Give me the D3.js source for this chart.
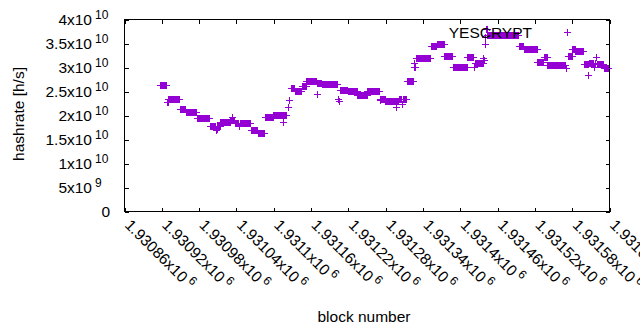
<!DOCTYPE html>
<html>
<head>
<meta charset="utf-8">
<script src="https://cdn.jsdelivr.net/npm/d3@7"></script>
<style>
  html, body { margin: 0; padding: 0; background: #fff; }
  svg { display: block; }
  text { font-family: "Liberation Sans", Arial, sans-serif; fill: #000; }
</style>
</head>
<body>
<svg id="chart" width="640" height="330"></svg>
<script>
// ---- data (run-length encoded: each run = consecutive blocks with the same hashrate) ----
const blockBase = 1930860;
const runStart = [58,69,71,90,99,117,138,148,149,150,155,171,173,174,178,185,186,204,215,226,240,255,256,264,266,268,275,286,293,310,311,318,344,345,348,360,375,391,411,412,420,437,438,442,447,448,455,466,467,469,493,503,515,529,552,563,564,577,578,579,580,581,582,584,635,643,665,675,681,711,714,721,726,739,747,748,756,757,759,760,772];
const runEnd   = [68,70,89,98,116,137,147,148,149,154,170,172,173,177,184,185,203,214,225,239,254,255,261,264,266,274,285,292,309,310,317,342,344,345,359,374,390,410,411,419,436,437,441,446,447,454,465,466,468,492,502,514,528,551,562,563,576,577,578,579,580,581,583,634,642,664,674,680,710,711,720,725,738,746,747,755,756,758,759,771,779];
const runValue = [2.62e10,2.28e10,2.33e10,2.115e10,2.07e10,1.93e10,1.77e10,1.68e10,1.71e10,1.77e10,1.86e10,1.89e10,1.96e10,1.89e10,1.83e10,1.77e10,1.83e10,1.69e10,1.62e10,1.95e10,1.99e10,1.86e10,1.99e10,2.17e10,2.31e10,2.56e10,2.49e10,2.60e10,2.70e10,2.43e10,2.67e10,2.64e10,2.33e10,2.29e10,2.52e10,2.49e10,2.42e10,2.51e10,2.32e10,2.33e10,2.30e10,2.17e10,2.30e10,2.33e10,2.22e10,2.33e10,2.70e10,3.08e10,3.00e10,3.18e10,3.43e10,3.47e10,3.22e10,2.99e10,3.21e10,3.00e10,3.09e10,3.18e10,3.09e10,3.15e10,3.47e10,3.63e10,3.80e10,3.67e10,3.43e10,3.37e10,3.10e10,3.20e10,3.035e10,2.98e10,3.23e10,3.38e10,3.33e10,3.06e10,2.83e10,3.08e10,3.00e10,3.08e10,3.21e10,3.06e10,2.97e10];

const seriesName = "YESCRYPT";
const xTickValues = [1930860,1930920,1930980,1931040,1931100,1931160,1931220,1931280,1931340,1931400,1931460,1931520,1931580,1931640];
const xTickMant   = ["1.93086","1.93092","1.93098","1.93104","1.9311","1.93116","1.93122","1.93128","1.93134","1.9314","1.93146","1.93152","1.93158","1.93164"];
const xTickExp    = ["6","6","6","6","6","6","6","6","6","6","6","6","6","6"];
const yTickValues = [0,5e9,1e10,1.5e10,2e10,2.5e10,3e10,3.5e10,4e10];
const yTickMant   = ["0","5","1","1.5","2","2.5","3","3.5","4"];
const yTickExp    = ["","9","10","10","10","10","10","10","10"];
const xLabel = "block number";
const yLabel = "hashrate [h/s]";

// decode runs into points
const points = [];
runStart.forEach((s, i) => {
  for (let b = s; b <= runEnd[i]; b++) points.push({ block: blockBase + b, hashrate: runValue[i] });
});

// ---- layout ----
const svg = d3.select("#chart");
const L = 124, R = 609, T = 19, B = 211;
const color = "#9400d3";
const fs = 15.5, supFs = 12;

const x = d3.scaleLinear().domain([1930860, 1931640]).range([L, R]);
const y = d3.scaleLinear().domain([0, 4e10]).range([B, T]);

const g = svg.append("g");

// border
g.append("rect").attr("x", L + 0.5).attr("y", T + 0.5)
  .attr("width", R - L).attr("height", B - T)
  .attr("fill", "none").attr("stroke", "#000").attr("stroke-width", 1)
  .attr("shape-rendering", "crispEdges");

// axes with inward ticks (mirrored)
const tl = 4;
const xb = d3.axisBottom(x).tickValues(xTickValues).tickSize(-tl).tickFormat("");
const xt = d3.axisTop(x).tickValues(xTickValues).tickSize(-tl).tickFormat("");
const yl = d3.axisLeft(y).tickValues(yTickValues).tickSize(-tl).tickFormat("");
const yr = d3.axisRight(y).tickValues(yTickValues).tickSize(-tl).tickFormat("");
[[xb, `translate(0.5,${B + 0.5})`], [xt, `translate(0.5,${T + 0.5})`],
 [yl, `translate(${L + 0.5},0.5)`], [yr, `translate(${R + 0.5},0.5)`]].forEach(([ax, tr]) => {
  const a = g.append("g").attr("transform", tr).call(ax);
  a.select(".domain").remove();
  a.selectAll("line").attr("stroke", "#000").attr("shape-rendering", "crispEdges");
});

// y tick labels (mantissa part right-aligned, superscript exponent after it)
yTickValues.forEach((v, i) => {
  if (yTickExp[i]) {
    g.append("text").attr("x", 92).attr("y", y(v) + 5.5)
      .attr("text-anchor", "end").attr("font-size", fs).text(yTickMant[i] + "x10");
    g.append("text").attr("x", 95).attr("y", y(v) - 0.5)
      .attr("text-anchor", "start").attr("font-size", supFs).text(yTickExp[i]);
  } else {
    g.append("text").attr("x", 110).attr("y", y(v) + 5.5)
      .attr("text-anchor", "end").attr("font-size", fs).text(yTickMant[i]);
  }
});

// x tick labels rotated -45 (going down-right)
xTickValues.forEach((v, i) => {
  const t = g.append("text")
    .attr("transform", `translate(${x(v)},${B + 15}) rotate(45)`)
    .attr("text-anchor", "start").attr("font-size", fs);
  t.append("tspan").text(xTickMant[i] + "x10");
  t.append("tspan").attr("dx", 3).attr("dy", -6).attr("font-size", supFs).text(xTickExp[i]);
});

// axis titles
g.append("text").attr("x", 364).attr("y", 322).attr("text-anchor", "middle")
  .attr("font-size", fs).text(xLabel);
g.append("text").attr("transform", `translate(24,114) rotate(-90)`).attr("text-anchor", "middle")
  .attr("font-size", fs).text(yLabel);

// points ('+' markers)
const h = 3.5;
let d = "";
points.forEach(p => {
  const px = Math.round(x(p.block)) + 0.5, py = Math.round(y(p.hashrate)) + 0.5;
  d += `M${px - h},${py}H${px + h}M${px},${py - h}V${py + h}`;
});
g.append("path").attr("d", d).attr("fill", "none").attr("stroke", color)
  .attr("stroke-width", 1.3).attr("shape-rendering", "crispEdges");

// key
g.append("text").attr("x", 532).attr("y", 37.5).attr("text-anchor", "end")
  .attr("font-size", fs).text(seriesName);
const kx = 567.5, ky = 32.5;
g.append("path").attr("d", `M${kx - h},${ky}H${kx + h}M${kx},${ky - h}V${ky + h}`)
  .attr("fill", "none").attr("stroke", color).attr("stroke-width", 1.3)
  .attr("shape-rendering", "crispEdges");
</script>
</body>
</html>
